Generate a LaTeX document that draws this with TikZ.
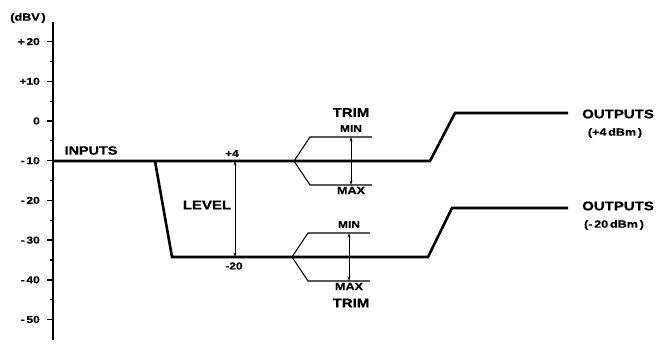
\documentclass[tikz,border=0pt]{standalone}
\usepackage{fontspec}
\newfontfamily\lblfont[FakeStretch=1.2,FakeBold=0.6]{Liberation Sans}
\usetikzlibrary{arrows.meta,calc}
\tikzset{
  signal/.style={line width=2.6pt},
  axisline/.style={line width=1.6pt},
  tickmajor/.style={line width=1.5pt},
  tickminor/.style={line width=1.2pt},
  forkline/.style={line width=1.1pt},
  span/.style={
    line width=0.7pt,
    {Stealth[length=4.5pt,width=2.8pt]}-{Stealth[length=4.5pt,width=2.8pt]}
  },
  lbl/.style={
    inner sep=0pt,
    font=\lblfont\bfseries\fontsize{#1}{#1}\selectfont
  },
  lbl/.default=10
}
\tikzset{
  trimfork/.pic={
    \coordinate (-root) at (0,0);
    \coordinate (-uk) at (16,-24);
    \coordinate (-ue) at (78,-24);
    \coordinate (-lk) at (16,24);
    \coordinate (-le) at (78,24);
    \coordinate (-top) at (57,-24);
    \coordinate (-bot) at (57,24);
    \draw[forkline] (-ue) -- (-uk) -- (-root) -- (-lk) -- (-le);
    \draw[span] (-top) -- (-bot);
    \node[lbl=10] (-min) at (57,-32.5) {MIN};
    \node[lbl=10.5] (-max) at (57,29.5) {MAX};
  }
}

\begin{document}
\begin{tikzpicture}[x=1pt,y=-1pt]
  \useasboundingbox (0,0) rectangle (661,350);

  % dBV scale
  \coordinate (atop) at (53,22);
  \coordinate (abot) at (53,340);
  \draw[axisline] (atop) -- (abot);
  \foreach \v/\t in {20/+\,20,10/+10,0/0,-10/-\,10,-20/-\,20,-30/-\,30,-40/-\,40,-50/-\,50}{
    \draw[tickmajor] (46.5,{121-3.97*\v}) -- (53,{121-3.97*\v});
    \node[lbl=10, anchor=east] (lab\v) at (40,{121-3.97*\v}) {\t};
  }
  \foreach \v in {15,5,...,-45}
    \draw[tickminor] (49.5,{121-3.97*\v}) -- (53,{121-3.97*\v});
  \node[lbl=10.5] (unit) at (28,18) {(dBV\,)};

  % signal paths
  \coordinate (inp) at (53,161);
  \coordinate (split) at (155,161);
  \coordinate (drop) at (172,257);
  \coordinate (hiend) at (430,161);
  \coordinate (hirise) at (455,113);
  \coordinate (hiout) at (568,113);
  \coordinate (loend) at (428,257);
  \coordinate (lorise) at (452,208);
  \coordinate (loout) at (568,208);
  \draw[signal] (inp) -- (split) -- (hiend) -- (hirise) -- (hiout);
  \draw[signal] (split) -- (drop) -- (loend) -- (lorise) -- (loout);

  % level
  \coordinate (lvtop) at (235,161);
  \coordinate (lvbot) at (235,257);
  \draw[span] (lvtop) -- (lvbot);
  \node[lbl=10] (plus4) at (232,153.5) {+4};
  \node[lbl=10] (min20) at (234,266) {-20};
  \node[lbl=12.5] (level) at (207,205) {LEVEL};

  % trims
  \pic (trimhi) at (294,161) {trimfork};
  \pic (trimlo) at (292,257) {trimfork};
  \node[lbl=12.5] (trimhilbl) at (351,112.5) {TRIM};
  \node[lbl=12.5] (trimlolbl) at (351,303) {TRIM};

  % labels
  \node[lbl=12] (inputs) at (91,150.5) {INPUTS};
  \node[lbl=12.5, anchor=west] (outhi) at (582,114) {OUTPUTS};
  \node[lbl=10.5] (outhidb) at (615,133) {(+4\,dBm\,)};
  \node[lbl=12.5, anchor=west] (outlo) at (582,206) {OUTPUTS};
  \node[lbl=10.5] (outlodb) at (614,225) {(-\,20\,dBm\,)};
\end{tikzpicture}
\end{document}
